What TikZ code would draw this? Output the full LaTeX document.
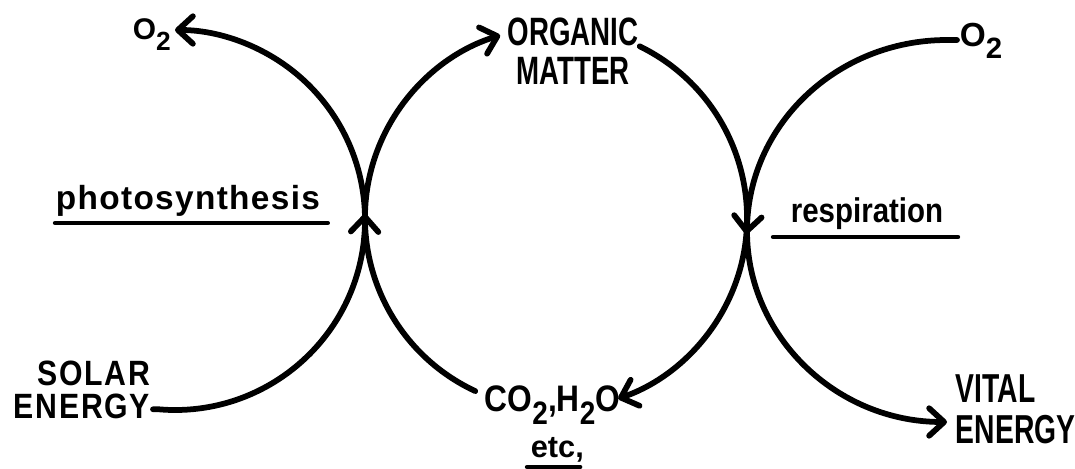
\documentclass[tikz,border=0pt]{standalone}
\usepackage{fontspec}
\setmainfont{Liberation Sans}[FakeStretch=0.70]
\newfontfamily\plainsans{Liberation Sans}
\newfontfamily\midsans{Liberation Sans}[FakeStretch=0.86]
\usepackage{graphicx}
\usepackage{tikz}
\usetikzlibrary{arrows.meta,decorations.markings}
\newcommand{\chemsub}[1]{\raisebox{-0.35em}{\scalebox{0.88}{#1}}}

\begin{document}
\begin{tikzpicture}[line width=0.115cm, line cap=round,
    >={Straight Barb[length=3mm,width=5.5mm,round]},
    lbl/.style={inner sep=0pt},
    uline/.style={line width=0.085cm},
    midtip/.style={postaction={decorate},
      decoration={markings, mark=at position #1 with {\arrow{>}}}}]

  \useasboundingbox (0,0) rectangle (21.5,9.38);

  % ── Labels ────────────────────────────────────────────────────
  \node[lbl, anchor=base west, font=\plainsans\bfseries\fontsize{17}{17}\selectfont] (o2l) at (2.60,8.58) {O\chemsub{2}};
  \node[lbl, align=center, font=\bfseries\fontsize{22.5}{22.5}\selectfont] (organic) at (11.46,8.36) {ORGANIC\\MATTER};
  \node[lbl, anchor=base west, font=\plainsans\bfseries\fontsize{19}{19}\selectfont] (o2r) at (19.14,8.44) {O\chemsub{2}};
  \node[lbl, anchor=east, align=right,
    font=\midsans\bfseries\fontsize{20}{18.7}\selectfont\addfontfeature{LetterSpace=5}] (solar) at (3.06,1.59) {SOLAR\\ENERGY};
  \node[lbl, anchor=base west, font=\midsans\bfseries\fontsize{21}{21}\selectfont] (co2) at (9.64,1.14)
    {CO\chemsub{2},H\chemsub{2}O};
  \node[lbl, anchor=base west, font=\plainsans\bfseries\fontsize{17.5}{17.5}\selectfont] (etc) at (10.56,0.22) {etc\rlap{,}};
  \node[lbl, anchor=west, align=left, font=\bfseries\fontsize{23}{23.5}\selectfont] (vital) at (19.06,1.19) {VITAL\\ENERGY};

  % ── Process names, underlined ─────────────────────────────────
  \node[lbl, anchor=base west,
    font=\plainsans\bfseries\fontsize{19}{19}\selectfont\addfontfeature{LetterSpace=4}] (photo) at (1.06,5.18) {photosynthesis};
  \draw[uline] ([shift={(0.04,-0.26)}]photo.base west) -- ([shift={(0.1,-0.26)}]photo.base east);
  \node[lbl, anchor=base west, font=\midsans\bfseries\fontsize{19.5}{19.5}\selectfont] (resp) at (15.76,4.92) {respiration};
  \draw[uline] ([shift={(-0.30,-0.28)}]resp.base west) -- ([shift={(0.24,-0.28)}]resp.base east);
  \draw[uline] ([shift={(-0.02,-0.18)}]etc.base west) -- ([shift={(0.04,-0.18)}]etc.base east);

  % ── Left loop: solar energy up to oxygen ──────────────────────
  \coordinate (lc) at (3.50,4.98);
  \path (lc) ++(-95:3.8) coordinate (lbot);
  \draw[->] (solar.east |- lbot) -- (lbot) arc[start angle=-95, end angle=90, radius=3.8];

  % ── Middle loop: CO2, H2O <-> organic matter ──────────────────
  \coordinate (mc) at (11.12,5.02);
  \path (mc) ++(245:3.82) coordinate (mleft) (mc) ++(64:3.82) coordinate (mright);
  \draw[->, midtip=0.48] (mleft) arc[start angle=245, end angle=107, radius=3.82];
  \draw[->, midtip=0.51] (mright) arc[start angle=64, end angle=-71, radius=3.82];

  % ── Right loop: oxygen down to vital energy ───────────────────
  \coordinate (rc) at (18.94,4.76);
  \path (rc) ++(0,3.82) coordinate (rtop);
  \draw[->] (o2r.west |- rtop) -- (rtop) arc[start angle=90, end angle=270, x radius=4, y radius=3.82];

\end{tikzpicture}
\end{document}
